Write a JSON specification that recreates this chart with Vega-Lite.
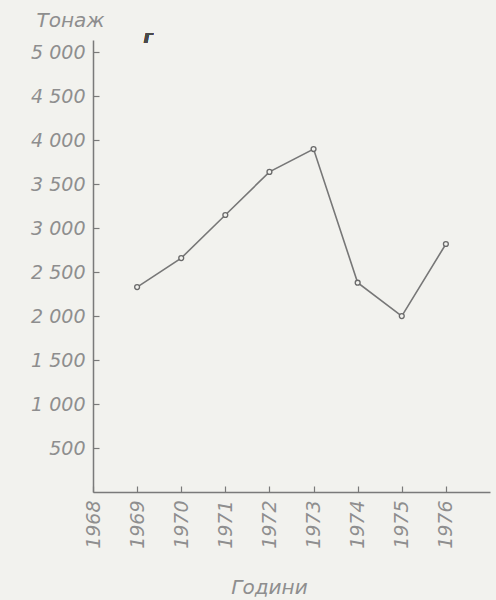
{
  "$schema": "https://vega.github.io/schema/vega-lite/v6.json",
  "width": 397,
  "height": 452,
  "autosize": "none",
  "padding": {"left": 93, "top": 40, "right": 6, "bottom": 108},
  "background": "#f2f2ee",
  "config": {
    "view": {"stroke": null},
    "axis": {
      "labelFont": "DejaVu Sans",
      "labelFontStyle": "italic",
      "labelFontSize": 19,
      "labelColor": "#8e8e8e",
      "titleFont": "DejaVu Sans",
      "titleFontStyle": "italic",
      "titleFontWeight": "normal",
      "titleFontSize": 20,
      "titleColor": "#8e8e8e",
      "domainColor": "#7a7a7a",
      "domainWidth": 1.5,
      "tickColor": "#7a7a7a",
      "tickWidth": 1.2,
      "grid": false
    }
  },
  "data": {
    "values": [
      {"year": 1969, "tonnage": 2330},
      {"year": 1970, "tonnage": 2660},
      {"year": 1971, "tonnage": 3150},
      {"year": 1972, "tonnage": 3640},
      {"year": 1973, "tonnage": 3900},
      {"year": 1974, "tonnage": 2380},
      {"year": 1975, "tonnage": 2000},
      {"year": 1976, "tonnage": 2820}
    ]
  },
  "encoding": {
    "x": {
      "field": "year",
      "type": "quantitative",
      "scale": {"domain": [1968, 1977], "nice": false, "zero": false},
      "axis": {
        "values": [1968, 1969, 1970, 1971, 1972, 1973, 1974, 1975, 1976],
        "format": "d",
        "labelAngle": -90,
        "labelPadding": 14,
        "tickSize": -6,
        "title": "Години",
        "titleX": 176,
        "titleY": 95,
        "titleBaseline": "middle"
      }
    },
    "y": {
      "field": "tonnage",
      "type": "quantitative",
      "scale": {"domain": [0, 5140], "nice": false},
      "axis": {
        "values": [500, 1000, 1500, 2000, 2500, 3000, 3500, 4000, 4500, 5000],
        "labelExpr": "replace(format(datum.value, ','), ',', ' ')",
        "labelPadding": 14,
        "tickSize": -6,
        "title": "Тонаж",
        "titleAngle": 0,
        "titleAlign": "center",
        "titleBaseline": "middle",
        "titleX": -23,
        "titleY": -20
      }
    }
  },
  "layer": [
    {"mark": {"type": "line", "color": "#777777", "strokeWidth": 1.6}},
    {"mark": {"type": "point", "shape": "circle", "filled": true, "fill": "#f2f2ee", "stroke": "#6a6a6a", "strokeWidth": 1.3, "size": 24, "opacity": 1}},
    {
      "mark": {"type": "text", "text": "г", "fontStyle": "italic", "fontWeight": "bold", "fontSize": 18, "color": "#4a4a4a", "font": "DejaVu Sans", "baseline": "middle"},
      "encoding": {
        "x": {"datum": 1969.25, "type": "quantitative"},
        "y": {"datum": 5160, "type": "quantitative"}
      }
    }
  ]
}
